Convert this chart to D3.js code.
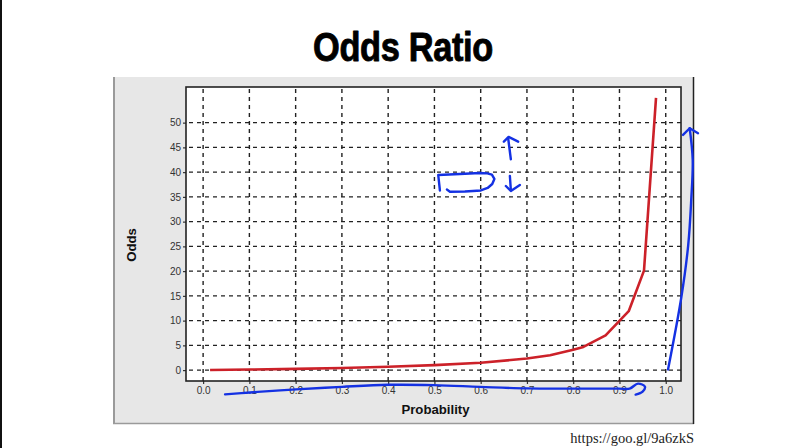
<!DOCTYPE html>
<html><head><meta charset="utf-8">
<script src="https://cdn.jsdelivr.net/npm/d3@7"></script>
<style>
html,body{margin:0;padding:0;background:#fff;}
svg{display:block;}
</style></head>
<body><svg id="c" width="804" height="448"></svg>
<script>
// ---- data ----
const probability = [0.015, 0.1, 0.2, 0.3, 0.4, 0.5, 0.6, 0.7, 0.75, 0.8, 0.82, 0.87, 0.92, 0.953, 0.979];
const odds        = [0.02, 0.11, 0.25, 0.43, 0.67, 1.0, 1.5, 2.33, 3.0, 4.1, 4.6, 7.0, 11.9, 20.1, 55.0];
const xTicks = [0.0, 0.1, 0.2, 0.3, 0.4, 0.5, 0.6, 0.7, 0.8, 0.9, 1.0];
const yTicks = [0, 5, 10, 15, 20, 25, 30, 35, 40, 45, 50];
const titleText = "Odds Ratio";
const xLabel = "Probability";
const yLabel = "Odds";
const sourceText = "https://goo.gl/9a6zkS";
// hand-drawn ink annotations, in data units [probability, odds]
const inkWave = [[0.0475,-4.91],[0.1015,-4.51],[0.2009,-3.90],[0.3002,-3.38],[0.3996,-2.97],[0.4989,-3.03],[0.5983,-3.38],[0.6998,-3.70],[0.7991,-3.74],[0.8985,-3.74],[0.922,-3.74],[0.940,-2.73],[0.955,-3.34],[0.950,-4.35],[0.935,-4.95]];
const inkRise = [[1.0050,0.14],[1.0339,14.82],[1.0486,25.27],[1.0551,34.37],[1.0583,42.46],[1.0518,48.87]];
const inkRiseHead = [[1.0374,47.51],[1.0518,48.87],[1.0698,47.86]];
const inkBox = [[0.5119,36.29],[0.5082,39.43],[0.5551,39.63],[0.5983,39.83],[0.6145,39.75],[0.6242,39.5],[0.6296,38.62],[0.6250,37.6],[0.6150,36.8],[0.6004,36.3],[0.5659,36.10],[0.5335,36.05],[0.5270,36.49]];
const inkUp = [[0.6652,42.60],[0.6594,46.85]];
const inkUpHead = [[0.6501,46.16],[0.6603,47.11],[0.6810,46.16]];
const inkDown = [[0.6631,39.22],[0.6652,36.39]];
const inkDownHead = [[0.6544,37.20],[0.6652,36.19],[0.6847,37.40]];

// ---- layout ----
const svg = d3.select("#c");
const plot = {left:186, top:87, right:681, bottom:381};
const x = d3.scaleLinear().domain([-0.037, 1.033]).range([plot.left, plot.right]);
const y = d3.scaleLinear().domain([-2.2, 57.2]).range([plot.bottom, plot.top]);

// slide left edge
svg.append("line").attr("x1",1).attr("x2",1).attr("y1",0).attr("y2",448).attr("stroke","#111").attr("stroke-width",2);

// title
svg.append("text").attr("transform","translate(403,61) scale(0.86,1)").attr("text-anchor","middle")
  .attr("font-family","Liberation Sans, Arial, sans-serif").attr("font-weight","bold")
  .attr("font-size",40).attr("letter-spacing","-0.4").attr("fill","#000")
  .attr("stroke","#000").attr("stroke-width",0.9).attr("stroke-linejoin","round").text(titleText);

// gray panel
svg.append("rect").attr("x",113).attr("y",77).attr("width",581).attr("height",347).attr("fill","#e7e7e7");
svg.append("line").attr("x1",114).attr("x2",114).attr("y1",77).attr("y2",424).attr("stroke","#9a9a9a").attr("stroke-width",2);
svg.append("line").attr("x1",113).attr("x2",694).attr("y1",423.5).attr("y2",423.5).attr("stroke","#9a9a9a").attr("stroke-width",1.5);
svg.append("line").attr("x1",693.5).attr("x2",693.5).attr("y1",77).attr("y2",424).attr("stroke","#222").attr("stroke-width",1.5);

// plot area
svg.append("rect").attr("x",plot.left).attr("y",plot.top).attr("width",plot.right-plot.left).attr("height",plot.bottom-plot.top).attr("fill","#fff");

// grid
const grid = svg.append("g").attr("stroke","#222").attr("stroke-width",1.4).attr("stroke-dasharray","4 4");
grid.selectAll("line.h").data(yTicks).join("line").attr("class","h")
  .attr("x1",plot.left+3).attr("x2",plot.right).attr("y1",d=>y(d)).attr("y2",d=>y(d));
grid.selectAll("line.v").data(xTicks).join("line").attr("class","v")
  .attr("y1",plot.top+2).attr("y2",plot.bottom).attr("x1",d=>x(d)).attr("x2",d=>x(d));

// axes
const fontAx = "Liberation Sans, Arial, sans-serif";
const gx = svg.append("g").attr("transform",`translate(0,${plot.bottom})`)
  .call(d3.axisBottom(x).tickValues(xTicks).tickFormat(d3.format(".1f")).tickSize(3).tickPadding(3));
const gy = svg.append("g").attr("transform",`translate(${plot.left},0)`)
  .call(d3.axisLeft(y).tickValues(yTicks).tickFormat(d3.format("d")).tickSize(3).tickPadding(2));
[gx,gy].forEach(g=>{
  g.select(".domain").remove();
  g.selectAll(".tick line").attr("stroke","#333").attr("stroke-width",1.2);
  g.selectAll(".tick text").attr("font-family",fontAx).attr("font-size",10).attr("fill","#333");
});

// plot border
svg.append("rect").attr("x",plot.left).attr("y",plot.top).attr("width",plot.right-plot.left).attr("height",plot.bottom-plot.top)
  .attr("fill","none").attr("stroke","#222").attr("stroke-width",1.6);

// axis labels
svg.append("text").attr("x",(plot.left+plot.right)/2+2).attr("y",413.5).attr("text-anchor","middle")
  .attr("font-family",fontAx).attr("font-weight","bold").attr("font-size",13.2).attr("fill","#111").text(xLabel);
svg.append("text").attr("transform","translate(135.5,245) rotate(-90)").attr("text-anchor","middle")
  .attr("font-family",fontAx).attr("font-weight","bold").attr("font-size",13.2).attr("fill","#111").text(yLabel);

// data line
const line = d3.line().x(d=>x(d[0])).y(d=>y(d[1]));
svg.append("path").datum(probability.map((p,i)=>[p,odds[i]]))
  .attr("d",line).attr("fill","none").attr("stroke","#cc2129").attr("stroke-width",2.6).attr("stroke-linejoin","round");

// ink annotations
const ink = "#1431e3";
const smooth = d3.line().x(d=>x(d[0])).y(d=>y(d[1])).curve(d3.curveCatmullRom.alpha(0.5));
[inkWave, inkRise].forEach(s=>{
  svg.append("path").datum(s).attr("d",smooth).attr("fill","none").attr("stroke",ink)
    .attr("stroke-width",2.4).attr("stroke-linecap","round").attr("stroke-linejoin","round");
});
[inkBox, inkRiseHead, inkUp, inkUpHead, inkDown, inkDownHead].forEach(s=>{
  svg.append("path").datum(s).attr("d",line).attr("fill","none").attr("stroke",ink)
    .attr("stroke-width",2.4).attr("stroke-linecap","round").attr("stroke-linejoin","round");
});

// source
svg.append("text").attr("x",694).attr("y",443).attr("text-anchor","end")
  .attr("font-family","Liberation Serif, Times New Roman, serif").attr("font-size",14.5).attr("fill","#222").text(sourceText);
</script></body></html>
